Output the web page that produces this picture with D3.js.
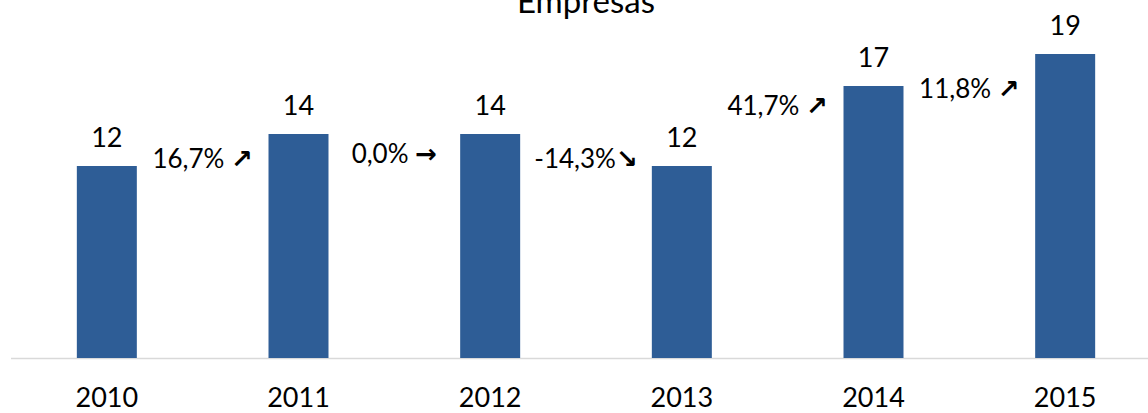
<!DOCTYPE html>
<html>
<head>
<meta charset="utf-8">
<script src="https://cdn.jsdelivr.net/npm/d3@7"></script>
<style>
  html, body { margin: 0; padding: 0; background: #fff; }
  svg { display: block; }
  text { font-family: Lato, "Open Sans", sans-serif; fill: #000; }
</style>
</head>
<body>
<svg id="chart" width="1148" height="413"></svg>
<script>
const title = "Empresas";
const years = ["2010", "2011", "2012", "2013", "2014", "2015"];
const companies = [12, 14, 14, 12, 17, 19];
const growthPct = ["16,7%", "0,0%", "-14,3%", "41,7%", "11,8%"];
const growthArrow = ["↗", "→", "↘", "↗", "↗"];
const growthLabelLevel = [12.4, 12.7, 12.4, 15.7, 16.75];

const W = 1148, H = 413;
const svg = d3.select("#chart");

const x = d3.scaleBand()
  .domain(years)
  .range([11, 1161])
  .paddingInner(0.687)
  .paddingOuter(0.3435);

const y = d3.scaleLinear().domain([0, 20]).range([358, 38]);

// baseline axis
svg.append("line")
  .attr("x1", 11).attr("x2", W)
  .attr("y1", y(0) + 0.5).attr("y2", y(0) + 0.5)
  .attr("stroke", "#d9d9d9").attr("stroke-width", 1.5);

// bars
svg.selectAll("rect.bar").data(companies).join("rect")
  .attr("class", "bar")
  .attr("x", (d, i) => x(years[i]))
  .attr("y", d => y(d))
  .attr("width", x.bandwidth())
  .attr("height", d => y(0) - y(d))
  .attr("fill", "#2e5d96");

// value labels
svg.selectAll("text.val").data(companies).join("text")
  .attr("class", "val")
  .attr("x", (d, i) => x(years[i]) + x.bandwidth() / 2)
  .attr("y", d => y(d) - 19)
  .attr("text-anchor", "middle")
  .attr("font-size", 27)
  .text(d => d);

// year labels
svg.selectAll("text.yr").data(years).join("text")
  .attr("class", "yr")
  .attr("x", d => x(d) + x.bandwidth() / 2)
  .attr("y", 407)
  .attr("text-anchor", "middle")
  .attr("font-size", 27)
  .text(d => d);

// growth labels
const g = svg.selectAll("text.gr").data(growthPct).join("text")
  .attr("class", "gr")
  .attr("x", (d, i) => (x(years[i]) + x(years[i + 1])) / 2 + x.bandwidth() / 2)
  .attr("y", (d, i) => y(growthLabelLevel[i]) + 8)
  .attr("text-anchor", "middle")
  .attr("font-size", 26);
g.append("tspan").text((d, i) => d + (growthArrow[i] === "↘" ? "" : " "));
g.append("tspan")
  .style("font-family", "'DejaVu Sans', sans-serif")
  .attr("font-weight", "bold")
  .attr("font-size", 26)
  .text((d, i) => growthArrow[i]);

// title
svg.append("text")
  .attr("x", 586).attr("y", 13)
  .attr("text-anchor", "middle")
  .attr("font-size", 33)
  .text(title);
</script>
</body>
</html>
